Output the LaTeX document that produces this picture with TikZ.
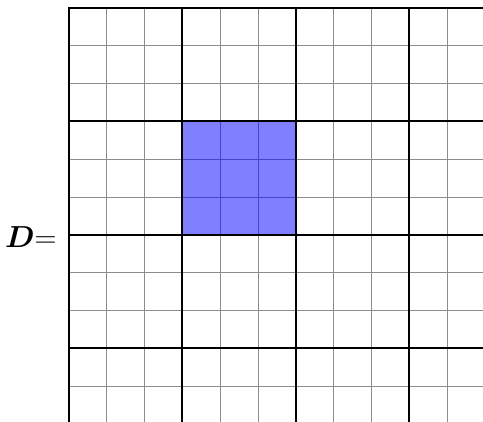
\documentclass[tikz,border=0pt]{standalone}
\usepackage{bm}
\begin{document}
\begin{tikzpicture}[x=1cm,y=1cm,
  thingrid/.style={draw=black!45, line width=0.6pt},
  thickgrid/.style={draw=black, line width=1.5pt},
  block/.style={fill=blue, fill opacity=0.5}]
\useasboundingbox (-1.825,0.212) rectangle (10.95,-10.926);
\begin{scope}
\clip (-1.825,0.212) rectangle (10.95,-10.926);
\draw[thingrid] (0,-12) grid[step=1] (12,0);
\fill[block] (3,-3) rectangle (6,-6);
\foreach \i in {0,3,6,9} {
  \draw[thickgrid] (\i,0.75pt) -- (\i,-12);
  \draw[thickgrid] (-0.75pt,-\i) -- (12,-\i);
}
\end{scope}
\node[anchor=east, inner sep=0pt] (lbl) at (-0.32,-6.05) {\scalebox{0.92}{\Huge$\bm{D}{=}$}};
\end{tikzpicture}
\end{document}
